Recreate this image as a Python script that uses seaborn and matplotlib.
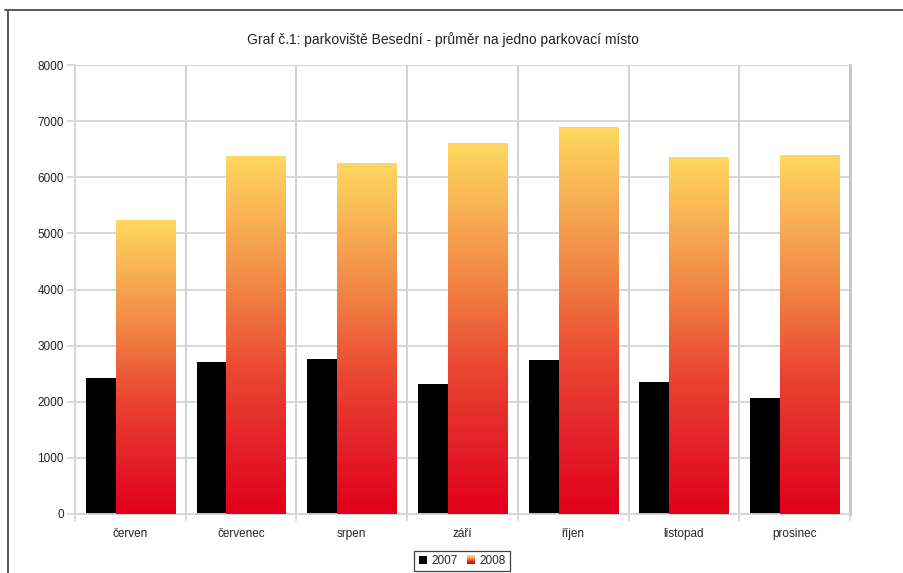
import numpy as np
import pandas as pd
import matplotlib
matplotlib.use("Agg")
import matplotlib.pyplot as plt
import seaborn as sns
from matplotlib.colors import LinearSegmentedColormap
from matplotlib.legend_handler import HandlerBase
from matplotlib.patches import Rectangle
from matplotlib.lines import Line2D

# Monthly averages per parking space
months = ["červen", "červenec", "srpen", "září", "říjen", "listopad", "prosinec"]
years = ["2007", "2008"]
values_2007 = [2430, 2700, 2770, 2310, 2750, 2345, 2070]
values_2008 = [5240, 6380, 6260, 6610, 6900, 6365, 6400]
y_ticks = [0, 1000, 2000, 3000, 4000, 5000, 6000, 7000, 8000]
title = "Graf č.1: parkoviště Besední - průměr na jedno parkovací místo"

df = pd.DataFrame({
    "měsíc": months * 2,
    "rok": [years[0]] * len(months) + [years[1]] * len(months),
    "hodnota": values_2007 + values_2008,
})

sns.set_theme(style="white")
plt.rcParams["font.family"] = ["Liberation Sans", "DejaVu Sans"]

grad_cmap = LinearSegmentedColormap.from_list(
    "redyellow",
    [(0.0, "#E2001A"), (0.2, "#E4232A"), (0.4, "#EA4832"),
     (0.6, "#F07E42"), (0.8, "#F7AC52"), (1.0, "#FFD860")],
)

fig = plt.figure(figsize=(9.04, 5.73), dpi=100)
ax = fig.add_axes([75 / 904, 1 - 514 / 573, 775 / 904, 449 / 573])

sns.barplot(data=df, x="měsíc", y="hodnota", hue="rok", order=months,
            hue_order=years, palette=["#000000", "#F07E42"], ax=ax,
            width=0.8, dodge=True, legend=False, saturation=1)

# Overlapping bars: 2007 sits partly behind 2008
bar_w = 0.535
shift = 0.135
n = len(months)
patches = list(ax.patches)
black_bars = patches[:n]
grad_bars = patches[n:]
for p in black_bars:
    c = p.get_x() + p.get_width() / 2 + 0.2
    p.set_x(c - shift - bar_w / 2)
    p.set_width(bar_w)
    p.set_edgecolor("none")
    p.set_zorder(2)

grad = np.linspace(0, 1, 256).reshape(-1, 1)
for p in grad_bars:
    c = p.get_x() + p.get_width() / 2 - 0.2
    p.set_x(c + shift - bar_w / 2)
    p.set_width(bar_w)
    p.set_facecolor("none")
    p.set_edgecolor("none")
    p.set_zorder(3)
    h = p.get_height()
    x0 = p.get_x()
    im = ax.imshow(grad, cmap=grad_cmap, origin="lower", aspect="auto",
                   extent=[x0, x0 + bar_w, 0, h], zorder=3,
                   interpolation="bilinear")
    im.set_clip_path(p)

ax.set_xlim(-0.5, n - 0.5)
ax.set_ylim(0, 8000)
ax.set_yticks(y_ticks)
ax.set_yticklabels([str(v) for v in y_ticks])
ax.set_xticks(np.arange(-0.5, n, 1.0), minor=False)
ax.set_xticklabels([])
ax.set_xticks(np.arange(n), minor=True)
ax.set_xticklabels(months, minor=True)
ax.set_xlabel("")
ax.set_ylabel("")

grid_c = "#D4D4D4"
ax.set_axisbelow(True)
ax.yaxis.grid(True, color=grid_c, linewidth=1.3)
ax.xaxis.grid(True, which="major", color="#C8C8C8", linewidth=1.2)
ax.tick_params(axis="y", which="major", length=6, width=1.2, color=grid_c,
               labelsize=8.5, labelcolor="#222222", pad=2, left=True)
ax.tick_params(axis="x", which="major", length=5, width=1.2, color=grid_c,
               bottom=True)
ax.tick_params(axis="x", which="minor", length=0, labelsize=8.5,
               labelcolor="#222222", pad=10)
for side in ["left", "bottom"]:
    ax.spines[side].set_color(grid_c)
    ax.spines[side].set_linewidth(1.3)
ax.spines["top"].set_visible(False)
ax.spines["right"].set_color("#C4C4C4")
ax.spines["right"].set_linewidth(2.0)

fig.text(443 / 904, 1 - 40 / 573, title, ha="center", va="center",
         fontsize=10, color="#222222",
         family=["Liberation Sans Narrow", "Liberation Sans", "DejaVu Sans"])

# Outer frame (top and left edges)
fig.add_artist(Line2D([5 / 904, 1.0], [1 - 9.5 / 573, 1 - 9.5 / 573],
                      transform=fig.transFigure, color="#4A4A4A", linewidth=1.3))
fig.add_artist(Line2D([7.5 / 904, 7.5 / 904], [0, 1 - 9.5 / 573],
                      transform=fig.transFigure, color="#4A4A4A", linewidth=1.3))


class GradientHandler(HandlerBase):
    def create_artists(self, legend, orig_handle, xdescent, ydescent,
                       width, height, fontsize, trans):
        steps = 12
        arts = []
        for i in range(steps):
            arts.append(Rectangle((-xdescent, -ydescent + height * i / steps),
                                  width, height / steps + 0.2,
                                  facecolor=grad_cmap(i / (steps - 1)),
                                  edgecolor="none", transform=trans))
        return arts


h2007 = Rectangle((0, 0), 1, 1, facecolor="#000000", edgecolor="none")
h2008 = Rectangle((0, 0), 1, 1, facecolor="#F07E42", edgecolor="none")
leg = fig.legend([h2007, h2008], years, loc="lower center",
                 bbox_to_anchor=(462 / 904, 2 / 573), ncol=2,
                 handler_map={h2008: GradientHandler()},
                 frameon=True, fancybox=False, fontsize=8.5,
                 handlelength=0.7, handleheight=0.7, handletextpad=0.35,
                 columnspacing=0.8, borderpad=0.35, borderaxespad=0)
leg.get_frame().set_edgecolor("#111111")
leg.get_frame().set_linewidth(0.9)

fig.savefig("out.png", dpi=100)
